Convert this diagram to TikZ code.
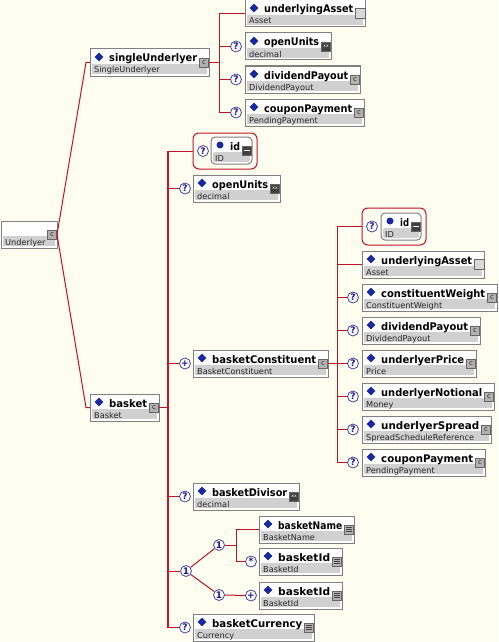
\documentclass[tikz,border=0pt]{standalone}
\usepackage{fontspec}
\setmainfont{DejaVu Sans}
\usetikzlibrary{shapes.geometric}

\definecolor{bgcol}{RGB}{255,252,240}
\definecolor{linkred}{RGB}{190,20,40}
\definecolor{boxgray}{RGB}{128,128,128}
\definecolor{bandgray}{RGB}{208,208,208}
\definecolor{markblue}{RGB}{24,40,160}
\definecolor{occblue}{RGB}{20,20,150}
\definecolor{occrim}{RGB}{70,70,150}

\tikzset{
  conn/.style={draw=linkred, line width=1pt},
  elembox/.style={draw=boxgray, fill=white, line width=1pt, minimum height=27pt,
    inner sep=0pt, outer sep=0pt, anchor=north west},
  band/.style={fill=bandgray},
  titletext/.style={font=\fontsize{10.5}{10.5}\selectfont\bfseries, inner sep=0pt, anchor=base west},
  typetext/.style={font=\fontsize{8.2}{8.2}\selectfont, inner sep=0pt, anchor=base west, text=black!85},
  diamondmark/.style={diamond, fill=markblue, minimum size=9pt, inner sep=0pt},
  dotmark/.style={circle, fill=markblue, minimum size=7pt, inner sep=0pt},
  elemmark/.style={diamondmark},
  occ/.style={circle, draw=occrim, line width=0.8pt, fill=white, minimum size=11pt, inner sep=0pt,
    text=occblue, font=\fontsize{9}{9}\selectfont\bfseries},
  attgrp/.style={draw=linkred, line width=1pt, rounded corners=6pt, anchor=north west,
    inner sep=0pt, outer sep=0pt},
  ticon/.style={draw=black!60, line width=0.8pt, minimum size=9pt, inner sep=0pt},
  cplx/.style={ticon, fill=black!30, text=black!85, font=\fontsize{7}{7}\selectfont, node contents={c}},
  simp/.style={ticon, fill=black!75, text=white, font=\fontsize{4.5}{4.5}\selectfont, node contents={xx}},
  lst/.style={ticon, fill=black!30, node contents={}, path picture={
    \foreach \k in {2.2,4.5,6.8}
      \draw[black!75, line width=0.8pt] ([shift={(1.5pt,\k pt)}]path picture bounding box.south west)
        -- ++(6pt,0pt);}},
  idicon/.style={ticon, fill=black!75, node contents={}, path picture={
    \draw[white, line width=1.2pt] ([shift={(1.5pt,0pt)}]path picture bounding box.west)
      -- ([shift={(-1.5pt,0pt)}]path picture bounding box.east);}},
  blank/.style={ticon, minimum size=10pt, fill=black!15, node contents={}},
}

% #1 name, #2 left, #3 top, #4 right, #5 title, #6 type, #7 icon style
\newcommand{\elem}[7]{%
  \node[elembox, minimum width={#4-#2}] (#1) at (#2,#3) {};
  \fill[band] ([shift={(2pt,-15pt)}]#1.north west) rectangle ([shift={(-2pt,2pt)}]#1.south east);
  \node[elemmark] (#1-m) at ([shift={(9pt,-8pt)}]#1.north west) {};
  \pgfmathsetlengthmacro\titlewd{#4-#2-31}%
  \node[titletext] (#1-t) at ([shift={(19pt,-13pt)}]#1.north west)
    {\if\relax\detokenize{#5}\relax\else\resizebox{\titlewd}{\height}{#5}\fi};
  \node[typetext] (#1-y) at ([shift={(4pt,-24pt)}]#1.north west) {#6};
  \node (#1-i) at ([xshift=-5pt]#1.east) [#7];
}

\begin{document}
\begin{tikzpicture}[x=1pt,y=-1pt]
\useasboundingbox (0,0) rectangle (498,642);
\fill[bgcol] (0,0) rectangle (498,642);

% root
\begin{scope}[elemmark/.style={inner sep=0pt, minimum size=0pt}]
  \elem{underlyer}{1}{221}{57}{}{Underlyer}{cplx}
\end{scope}

% singleUnderlyer branch
\elem{su}{90}{49}{209}{singleUnderlyer}{SingleUnderlyer}{cplx}
\elem{su-asset}{245}{0}{365}{underlyingAsset}{Asset}{blank}
\elem{su-open}{245}{33}{331}{openUnits}{decimal}{simp}
\elem{su-div}{245}{66}{360}{dividendPayout}{DividendPayout}{cplx}
\elem{su-coupon}{245}{99}{364}{couponPayment}{PendingPayment}{cplx}
\node[occ] (su-open-o) at (236,46.5) {?};
\node[occ] (su-div-o) at (236,79.5) {?};
\node[occ] (su-coupon-o) at (236,112.5) {?};

% basket branch
\elem{basket}{90}{394}{159}{basket}{Basket}{cplx}
\node[attgrp, minimum width=64pt, minimum height=36pt] (b-idgrp) at (193,133) {};
\node[occ] (b-idgrp-o) at (203,151) {?};
\begin{scope}[elemmark/.style={dotmark}, elembox/.append style={rounded corners=4pt},
  band/.append style={rounded corners=2pt}]
  \elem{b-id}{211}{137}{252}{id}{ID}{idicon}
\end{scope}
\elem{b-open}{193}{175}{280}{openUnits}{decimal}{simp}
\node[occ] (b-open-o) at (185,188.5) {?};
\elem{b-const}{193}{350}{328}{basketConstituent}{BasketConstituent}{cplx}
\node[occ] (b-const-o) at (185,363.5) {+};
\elem{b-div}{193}{483}{299}{basketDivisor}{decimal}{simp}
\node[occ] (b-div-o) at (185,496.5) {?};
\node[occ] (b-choice) at (186,571) {1};
\node[occ] (b-seq1) at (219,545) {1};
\node[occ] (b-seq2) at (219,595) {1};
\elem{b-name}{259}{516}{354}{basketName}{BasketName}{lst}
\elem{b-id1}{259}{548}{342}{basketId}{BasketId}{lst}
\node[occ] (b-id1-o) at (251,561.5) {*};
\elem{b-id2}{259}{582}{342}{basketId}{BasketId}{lst}
\node[occ] (b-id2-o) at (251,595.5) {+};
\elem{b-cur}{193}{614}{314}{basketCurrency}{Currency}{lst}
\node[occ] (b-cur-o) at (185,627.5) {?};

% basketConstituent children
\node[attgrp, minimum width=64pt, minimum height=37pt] (c-idgrp) at (362,208) {};
\node[occ] (c-idgrp-o) at (372,226.5) {?};
\begin{scope}[elemmark/.style={dotmark}, elembox/.append style={rounded corners=4pt},
  band/.append style={rounded corners=2pt}]
  \elem{c-id}{381}{213}{421}{id}{ID}{idicon}
\end{scope}
\elem{c-asset}{362}{251}{484}{underlyingAsset}{Asset}{blank}
\elem{c-weight}{362}{284}{497}{constituentWeight}{ConstituentWeight}{cplx}
\elem{c-div}{362}{317}{480}{dividendPayout}{DividendPayout}{cplx}
\elem{c-price}{362}{350}{476}{underlyerPrice}{Price}{cplx}
\elem{c-notional}{362}{383}{494}{underlyerNotional}{Money}{cplx}
\elem{c-spread}{362}{416}{491}{underlyerSpread}{SpreadScheduleReference}{cplx}
\elem{c-coupon}{362}{449}{485}{couponPayment}{PendingPayment}{cplx}
\foreach \n in {c-weight,c-div,c-price,c-notional,c-spread,c-coupon}
  \node[occ] (\n-o) at ([xshift=-9pt]\n.west) {?};

% connectors
\coordinate (subus) at (219,0);
\coordinate (bbus) at (168,0);
\coordinate (cbus) at (337,0);
\coordinate (sqbus) at (236,0);

\draw[conn] (underlyer.east) -- ([xshift=-4pt]su.west) -- (su.west);
\draw[conn] (underlyer.east) -- ([xshift=-4pt]basket.west) -- (basket.west);

\draw[conn] (su.east) -- (su.east -| subus);
\draw[conn] (su-asset.west -| subus) -- (su-coupon-o.west -| subus);
\draw[conn] (su-asset.west -| subus) -- (su-asset.west);
\foreach \n in {su-open,su-div,su-coupon}
  \draw[conn] (\n-o.west -| subus) -- (\n-o.west);

\draw[conn, line width=1.5pt] (basket.east) -- (basket.east -| bbus);
\draw[conn, line width=1.5pt] (b-idgrp.west -| bbus) -- (b-cur-o.west -| bbus);
\draw[conn] (b-idgrp.west -| bbus) -- (b-idgrp.west);
\foreach \n in {b-open,b-const,b-div,b-cur}
  \draw[conn] (\n-o.west -| bbus) -- (\n-o.west);
\draw[conn] (b-choice.west -| bbus) -- (b-choice.west);
\draw[conn] (b-choice) -- (b-seq1);
\draw[conn] (b-choice) -- (b-seq2);
\draw[conn] (b-seq1) -- (b-seq1 -| sqbus);
\draw[conn] (b-name.west -| sqbus) -- (b-id1-o.west -| sqbus);
\draw[conn] (b-name.west -| sqbus) -- (b-name.west);
\draw[conn] (b-id1-o.west -| sqbus) -- (b-id1-o.west);
\draw[conn] (b-seq2) -- (b-id2-o);

\draw[conn] (b-const.east) -- (b-const.east -| cbus);
\draw[conn] (c-idgrp.west -| cbus) -- (c-coupon-o.west -| cbus);
\draw[conn] (c-idgrp.west -| cbus) -- (c-idgrp.west);
\draw[conn] (c-asset.west -| cbus) -- (c-asset.west);
\foreach \n in {c-weight,c-div,c-price,c-notional,c-spread,c-coupon}
  \draw[conn] (\n-o.west -| cbus) -- (\n-o.west);

\end{tikzpicture}
\end{document}
